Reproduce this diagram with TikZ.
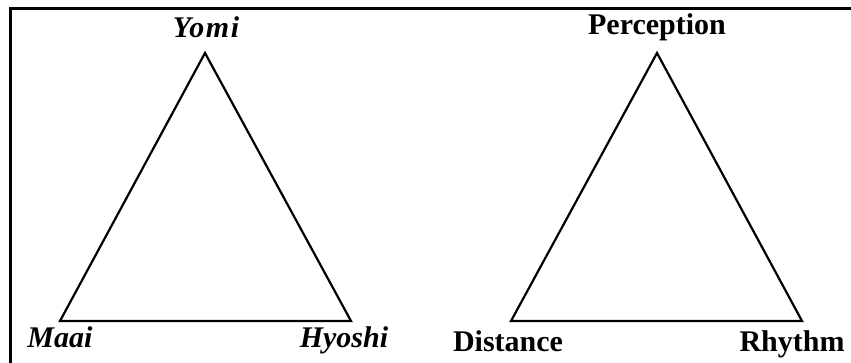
\documentclass[tikz,border=0pt]{standalone}
\usepackage{fontspec}
\setmainfont{Liberation Serif}
\usepackage{tikz}

\begin{document}
\begin{tikzpicture}[x=1pt, y=-1pt,
    edge/.style={line width=2.2pt, line join=miter},
    lbl/.style={inner sep=0pt, anchor=base, font=\fontsize{30}{34}\selectfont\bfseries},
    jlbl/.style={lbl, font=\fontsize{30}{34}\selectfont\bfseries\itshape}]
    \useasboundingbox (0,0) rectangle (851,363);

    % Frame
    \draw[line width=3pt] (10.5,363) -- (10.5,8.5) -- (851,8.5);

    % Japanese triangle
    \coordinate (yomi) at (205,53);
    \coordinate (maai) at (60,321);
    \coordinate (hyoshi) at (351,321);
    \draw[edge] (yomi) -- (maai) -- (hyoshi) -- cycle;
    \node[jlbl] (tyomi) at (206,38) {\addfontfeature{LetterSpace=5}Yomi};
    \node[jlbl] (tmaai) at (60,347) {Maai};
    \node[jlbl] (thyoshi) at (344,347) {Hyoshi};

    % English triangle
    \coordinate (perc) at (657,53);
    \coordinate (dist) at (511,321);
    \coordinate (rhy) at (802,321);
    \draw[edge] (perc) -- (dist) -- (rhy) -- cycle;
    \node[lbl] (tperc) at (657,35) {Perception};
    \node[lbl] (tdist) at (508,351) {Distance};
    \node[lbl] (trhy) at (792,351) {Rhythm};
\end{tikzpicture}
\end{document}
